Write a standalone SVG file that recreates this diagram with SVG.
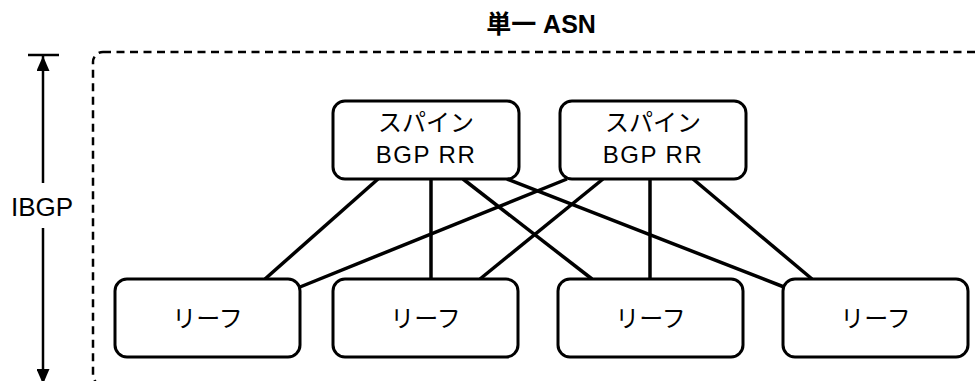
<svg xmlns="http://www.w3.org/2000/svg" width="977" height="381" viewBox="0 0 977 381">
  <style>
    .box { fill: #ffffff; stroke: #000000; stroke-width: 3; }
    .link { stroke: #000000; stroke-width: 3.5; fill: none; }
    .label { font-family: "Liberation Sans", "Noto Sans CJK JP", sans-serif; fill: #000000; text-anchor: middle; }
    .jp { font-size: 24px; }
    .lat { font-size: 24px; letter-spacing: 1.5px; }
  </style>
  <defs>
    <marker id="arrowhead" viewBox="0 0 15 13" refX="15" refY="6.5" markerWidth="15" markerHeight="13" markerUnits="userSpaceOnUse" orient="auto-start-reverse">
      <path d="M0,0 L15,6.5 L0,13 Z" fill="#000000"/>
    </marker>
  </defs>

  <rect width="977" height="381" fill="#ffffff"/>

  <!-- single-AS boundary -->
  <g id="asn-boundary">
    <rect x="93" y="52" width="920" height="333" rx="10" fill="none" stroke="#000000" stroke-width="2.5" stroke-dasharray="8 5.5"/>
    <text class="label" x="541" y="33" font-size="25" font-weight="bold">単一 ASN</text>
  </g>

  <!-- IBGP span indicator -->
  <g id="ibgp-span">
    <line x1="28" y1="55" x2="59" y2="55" stroke="#000000" stroke-width="2.5"/>
    <line x1="43" y1="183" x2="43" y2="56" stroke="#000000" stroke-width="2.5" marker-end="url(#arrowhead)"/>
    <line x1="43" y1="228" x2="43" y2="384" stroke="#000000" stroke-width="2.5" marker-end="url(#arrowhead)"/>
    <text class="label" x="42" y="216" font-size="26">IBGP</text>
  </g>

  <!-- spine-to-leaf sessions -->
  <g id="connectors">
    <line class="link" x1="378" y1="179" x2="265" y2="279"/>
    <line class="link" x1="431" y1="179" x2="431" y2="279"/>
    <line class="link" x1="463" y1="179" x2="592" y2="279"/>
    <line class="link" x1="507" y1="179" x2="784" y2="287"/>
    <line class="link" x1="567" y1="179" x2="300" y2="287"/>
    <line class="link" x1="603" y1="179" x2="480" y2="279"/>
    <line class="link" x1="650" y1="179" x2="650" y2="279"/>
    <line class="link" x1="693" y1="179" x2="812" y2="279"/>
  </g>

  <!-- spines -->
  <g id="spine-1">
    <rect class="box" x="333" y="101" width="186" height="78" rx="12"/>
    <text class="label jp" x="426" y="131">スパイン</text>
    <text class="label lat" x="426" y="163">BGP RR</text>
  </g>
  <g id="spine-2">
    <rect class="box" x="560" y="101" width="186" height="78" rx="12"/>
    <text class="label jp" x="653" y="131">スパイン</text>
    <text class="label lat" x="653" y="163">BGP RR</text>
  </g>

  <!-- leaves -->
  <g id="leaf-1">
    <rect class="box" x="115" y="279" width="185" height="78" rx="12"/>
    <text class="label jp" x="207.5" y="327">リーフ</text>
  </g>
  <g id="leaf-2">
    <rect class="box" x="333" y="279" width="185" height="78" rx="12"/>
    <text class="label jp" x="425.5" y="327">リーフ</text>
  </g>
  <g id="leaf-3">
    <rect class="box" x="558" y="279" width="185" height="78" rx="12"/>
    <text class="label jp" x="650.5" y="327">リーフ</text>
  </g>
  <g id="leaf-4">
    <rect class="box" x="783" y="279" width="185" height="78" rx="12"/>
    <text class="label jp" x="875.5" y="327">リーフ</text>
  </g>
</svg>
